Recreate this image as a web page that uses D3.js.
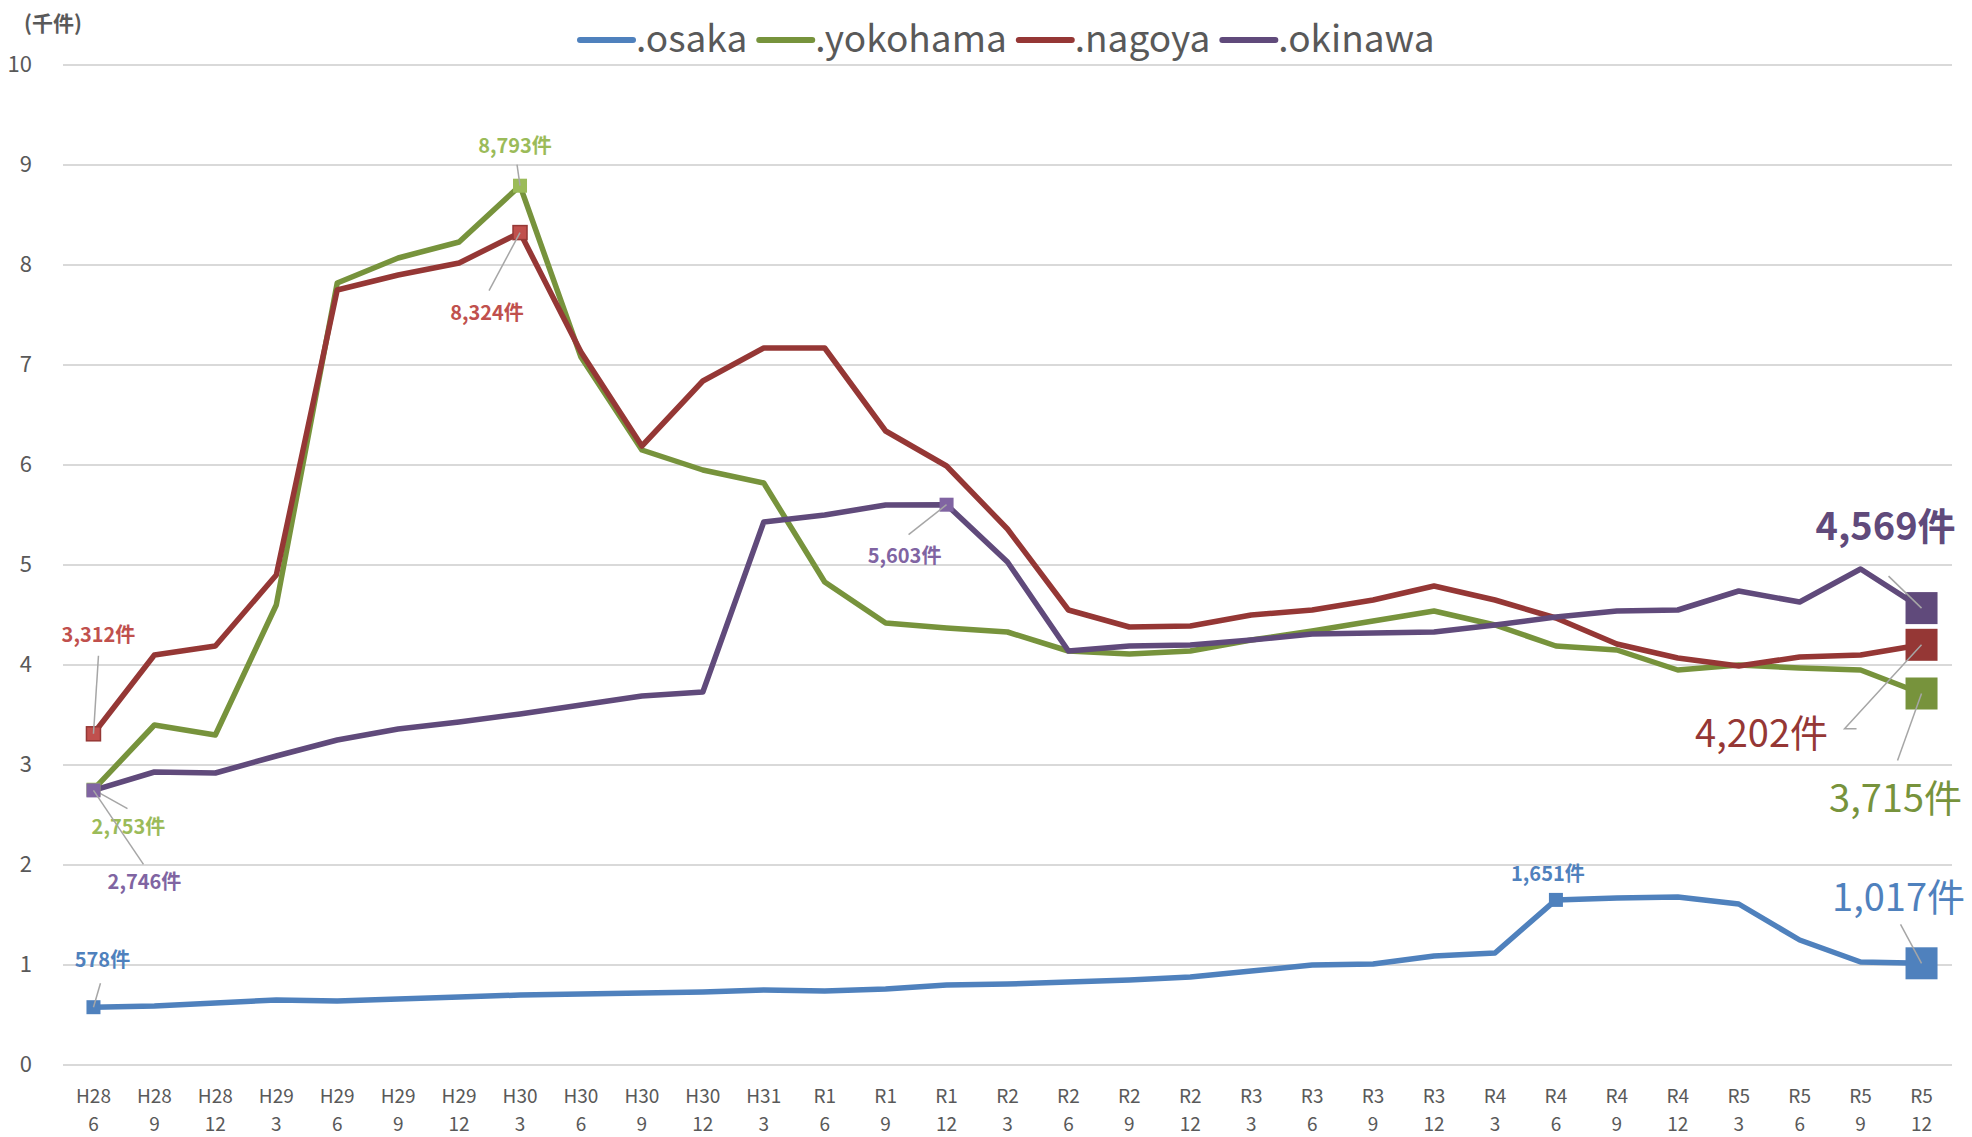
<!DOCTYPE html>
<html>
<head>
<meta charset="utf-8">
<script src="https://cdn.jsdelivr.net/npm/d3@7"></script>
<style>
  body { margin: 0; background: #fff; }
  svg text { font-family: "Noto Sans CJK JP", sans-serif; }
</style>
</head>
<body>
<div id="container"></div>
<script>
// tick labels
var eraLabels = ["H28","H28","H28","H29","H29","H29","H29","H30","H30","H30","H30","H31","R1","R1","R1",
                 "R2","R2","R2","R2","R3","R3","R3","R3","R4","R4","R4","R4","R5","R5","R5","R5"];
var monthLabels = ["6","9","12","3","6","9","12","3","6","9","12","3","6","9","12",
                   "3","6","9","12","3","6","9","12","3","6","9","12","3","6","9","12"];
var yTicks = [0,1,2,3,4,5,6,7,8,9,10];

// series values (thousand cases)
var osaka = [0.578,0.59,0.62,0.65,0.64,0.66,0.68,0.70,0.71,0.72,0.73,0.75,0.74,0.76,0.80,
             0.81,0.83,0.85,0.88,0.94,1.00,1.01,1.09,1.12,1.651,1.67,1.68,1.61,1.25,1.03,1.017];
var yokohama = [2.753,3.40,3.30,4.60,7.82,8.07,8.23,8.793,7.08,6.15,5.95,5.82,4.83,4.42,4.37,
                4.33,4.14,4.11,4.14,4.25,4.34,4.44,4.54,4.40,4.19,4.15,3.95,4.00,3.97,3.95,3.715];
var nagoya = [3.312,4.10,4.19,4.90,7.75,7.90,8.02,8.324,7.13,6.19,6.84,7.17,7.17,6.34,5.99,
              5.36,4.55,4.38,4.39,4.50,4.55,4.65,4.79,4.65,4.47,4.21,4.07,3.99,4.08,4.10,4.202];
var okinawa = [2.746,2.93,2.92,3.09,3.25,3.36,3.43,3.51,3.60,3.69,3.73,5.43,5.50,5.60,5.603,
               5.03,4.14,4.19,4.20,4.25,4.31,4.32,4.33,4.40,4.48,4.54,4.55,4.74,4.63,4.96,4.569];

var seriesNames = [".osaka", ".yokohama", ".nagoya", ".okinawa"];
var seriesData = [osaka, yokohama, nagoya, okinawa];
var lineColors = ["#4F81BD", "#77933C", "#953735", "#604A7B"];
var lightColors = ["#4F81BD", "#9BBB59", "#C0504D", "#8064A2"];

// labelled points: series index, point index, label offset, leader line, size
var callouts = [
    {s: 0, i: 0,  dx: 9,   dy: -40, lx1: 7,  ly1: -24, big: false},
    {s: 2, i: 0,  dx: 5,   dy: -92, lx1: 5,  ly1: -78, big: false},
    {s: 1, i: 0,  dx: 35,  dy: 44,  lx1: 34, ly1: 19,  big: false},
    {s: 3, i: 0,  dx: 51,  dy: 99,  lx1: 50, ly1: 74,  big: false},
    {s: 1, i: 7,  dx: -5,  dy: -33, lx1: -3, ly1: -21, big: false},
    {s: 2, i: 7,  dx: -33, dy: 87,  lx1: -31, ly1: 58, big: false},
    {s: 3, i: 14, dx: -42, dy: 58,  lx1: -38, ly1: 30, big: false},
    {s: 0, i: 24, dx: -8,  dy: -19, lx1: 0,  ly1: 0,   big: false, noLeader: true},
    {s: 3, i: 30, dx: -36, dy: -68, lx1: -33, ly1: -32, big: true, bold: true},
    {s: 2, i: 30, dx: -160, dy: 102, lx1: -77, ly1: 84, lx2: -65, big: true},
    {s: 1, i: 30, dx: -26, dy: 118, lx1: -24, ly1: 67, big: true},
    {s: 0, i: 30, dx: -23, dy: -52, lx1: -21, ly1: -39, big: true}
];

var width = 1972, height = 1137;
var svg = d3.select("#container").append("svg")
    .attr("width", width).attr("height", height);

var x = d3.scalePoint().domain(d3.range(eraLabels.length)).range([63, 1952]).padding(0.5);
var y = d3.scaleLinear().domain([0, 10]).range([1065, 65]);

// gridlines
svg.append("g").selectAll("line").data(yTicks).enter().append("line")
    .attr("x1", 63).attr("x2", 1952)
    .attr("y1", d => y(d)).attr("y2", d => y(d))
    .attr("stroke", "#D9D9D9").attr("stroke-width", 2);

// y axis labels
svg.append("g").selectAll("text").data(yTicks).enter().append("text")
    .attr("x", 32).attr("y", d => y(d) + 7)
    .attr("text-anchor", "end")
    .attr("font-size", 22).attr("fill", "#595959")
    .text(d => d);

svg.append("text").attr("x", 53).attr("y", 31)
    .attr("text-anchor", "middle").attr("font-size", 21).attr("font-weight", "bold")
    .attr("fill", "#595959").text("(千件)");

// x axis labels
var xl = svg.append("g").selectAll("text").data(d3.range(eraLabels.length)).enter().append("text")
    .attr("text-anchor", "middle").attr("font-size", 19).attr("fill", "#595959")
    .attr("transform", d => "translate(" + x(d) + ",1103)");
xl.append("tspan").attr("x", 0).attr("y", 0).text(d => eraLabels[d]);
xl.append("tspan").attr("x", 0).attr("y", 28).text(d => monthLabels[d]);

// lines
var line = d3.line().x((d, i) => x(i)).y(d => y(d));
svg.append("g").selectAll("path").data(seriesData).enter().append("path")
    .attr("d", line).attr("fill", "none")
    .attr("stroke", (d, i) => lineColors[i]).attr("stroke-width", 5.5)
    .attr("stroke-linejoin", "round");

// callouts
callouts.forEach(function(c) {
    var px = x(c.i), py = y(seriesData[c.s][c.i]);
    var ms = c.big ? 32 : 14;
    svg.append("rect")
        .attr("x", px - ms / 2).attr("y", py - ms / 2)
        .attr("width", ms).attr("height", ms)
        .attr("fill", c.big ? lineColors[c.s] : lightColors[c.s])
        .attr("stroke", c.big ? "none" : lineColors[c.s]).attr("stroke-width", c.s == 2 ? 1.5 : 0);
    if (!c.noLeader) {
        var pts = [[px, py]];
        pts.push([px + c.lx1, py + c.ly1]);
        if (c.lx2 !== undefined) pts.push([px + c.lx2, py + c.ly1]);
        svg.append("path").attr("d", d3.line()(pts))
            .attr("fill", "none").attr("stroke", "#A6A6A6").attr("stroke-width", 1.5);
    }
    var v = Math.round(seriesData[c.s][c.i] * 1000);
    svg.append("text")
        .attr("x", px + c.dx).attr("y", py + c.dy)
        .attr("text-anchor", "middle")
        .attr("font-family", c.big ? "'Liberation Sans', 'Noto Sans CJK JP', sans-serif" : null)
        .attr("font-size", c.big ? 38 : 20)
        .attr("font-weight", c.bold ? "bold" : (c.big ? "normal" : "bold"))
        .attr("fill", c.big ? lineColors[c.s] : lightColors[c.s])
        .text(d3.format(",")(v) + "件");
});

// legend
var legend = svg.append("g");
var lx = 578;
seriesNames.forEach(function(n, i) {
    legend.append("line").attr("x1", lx + 2).attr("x2", lx + 55)
        .attr("y1", 40).attr("y2", 40)
        .attr("stroke", lineColors[i]).attr("stroke-width", 6).attr("stroke-linecap", "round");
    var t = legend.append("text").attr("x", lx + 58).attr("y", 52)
        .attr("font-size", 37).attr("fill", "#595959").text(n);
    lx += 58 + t.node().getComputedTextLength() + 10;
});
</script>
</body>
</html>
